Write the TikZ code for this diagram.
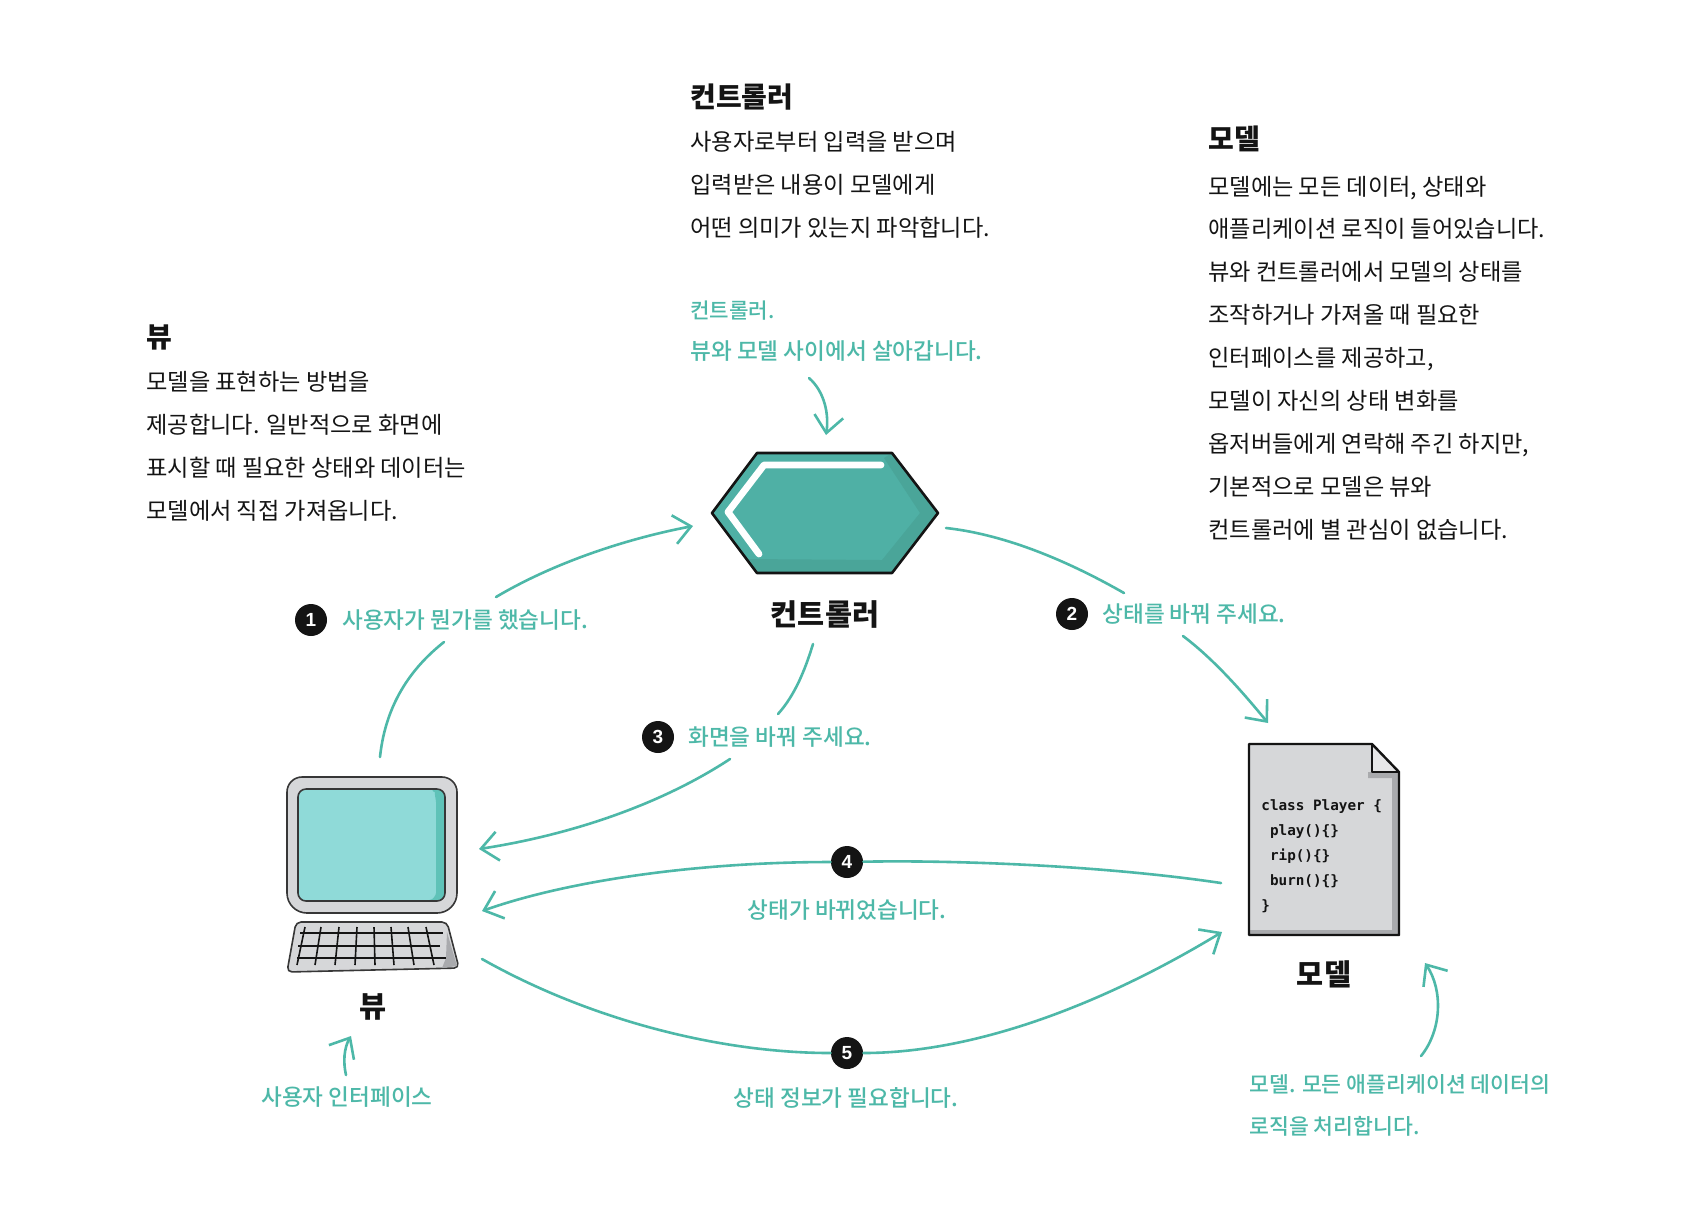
\documentclass[tikz,border=0pt]{standalone}
\usepackage{fontspec}
\setmainfont{Noto Sans CJK KR}
\newfontfamily\notefont{Noto Sans CJK KR Medium}
\newfontfamily\codefont{DejaVu Sans Mono}
\newfontfamily\numfont{Liberation Sans}
\usetikzlibrary{arrows.meta}
\definecolor{teal1}{HTML}{4DB8A8}
\definecolor{hexmain}{HTML}{4FB0A5}
\definecolor{hexdark}{HTML}{4AA599}
\definecolor{scr}{HTML}{8FDAD8}
\definecolor{scrd}{HTML}{5FC2B8}
\definecolor{gray1}{HTML}{D6D7D9}
\definecolor{gray2}{HTML}{A9AAAD}
\definecolor{ink}{HTML}{141414}
\tikzset{
  x=0.5pt,y=-0.5pt,
  head/.style={font=\fontsize{14}{18}\selectfont\bfseries,text=ink,inner sep=0pt},
  biglabel/.style={font=\fontsize{14.7}{18}\selectfont\bfseries,text=ink,inner sep=0pt},
  body/.style={font=\fontsize{11.6}{21.45}\selectfont,text=ink,inner sep=0pt,align=left,anchor=west},
  note/.style={font=\fontsize{11.3}{20.5}\selectfont\notefont,text=teal1,inner sep=0pt,align=left},
  flow/.style={draw=teal1,line width=1.3pt,line cap=round},
  flowa/.style={flow,-{Straight Barb[length=8.5pt,width=14.5pt,line width=1.3pt]}},
  badge/.style={circle,fill=ink,text=white,inner sep=0pt,minimum size=16pt,font=\fontsize{9.5}{10}\selectfont\numfont\bfseries},
  outline/.style={draw=ink,line width=1pt,line join=round},
  thinline/.style={draw=ink!85,line width=0.8pt,line join=round},
}
\begin{document}
\begin{tikzpicture}
\useasboundingbox (0,0) rectangle (1684,1212);
\fill[white] (0,0) rectangle (1684,1212);

% Controller hexagon
\fill[hexmain] (712,513)--(757,453)--(892,453)--(938,513)--(892,573)--(757,573)--cycle;
\fill[hexdark] (892,453)--(938,513)--(892,573)--(757,573)--(746,559)--(882,560)--(920,513)--(884,458)--cycle;
\draw[white,line width=3.4pt,line cap=round,line join=round] (881,465)--(764,465)--(728,512)--(759,554);
\draw[outline,line width=1.3pt] (712,513)--(757,453)--(892,453)--(938,513)--(892,573)--(757,573)--cycle;
\node[inner sep=0pt,minimum width=113pt,minimum height=60pt] (hex) at (825,513) {};

% Monitor
\draw[thinline,fill=gray1] (287,792) arc[start angle=180,end angle=270,radius=15] -- (442,777) arc[start angle=270,end angle=360,radius=15] -- (457,893) arc[start angle=0,end angle=90,radius=20] -- (307,913) arc[start angle=90,end angle=180,radius=20] -- cycle;
\fill[scr,rounded corners=4pt] (298,789) rectangle (445,901);
\fill[scrd,rounded corners=4pt] (428,789) .. controls (434,792) and (436,800) .. (436,810) -- (436,885) .. controls (436,895) and (433,899) .. (424,901) -- (445,901) -- (445,789) -- cycle;
\draw[thinline,rounded corners=4pt] (298,789) rectangle (445,901);
% Keyboard
\draw[thinline,fill=gray1,rounded corners=2.5pt] (296,922) -- (447,922) -- (459,968) -- (372,970) -- (287,972) -- cycle;
\fill[gray2] (447,932) -- (457,966) -- (442,968) -- (446,958) -- cycle;
\foreach \a/\b in {305/297,321/315,339/335,357/355,374/375,391/394,408/414,426/434}
  \draw[ink,line width=0.8pt] (\a,927) -- (\b,965);
\draw[ink,line width=0.8pt] (300,933) -- (443,933);
\draw[ink,line width=0.8pt] (298,946) -- (440,946);
\draw[ink,line width=0.8pt] (297,958) -- (446,958);

% Model document
\fill[gray1] (1249,744) -- (1372,744) -- (1399,772) -- (1399,935) -- (1249,935) -- cycle;
\fill[gray2] (1368,772) -- (1399,772) -- (1399,935) -- (1249,935) -- (1249,930) -- (1392,930) -- (1392,778) -- (1368,778) -- cycle;
\fill[gray1!60!white] (1372,744) -- (1399,772) -- (1372,772) -- cycle;
\draw[outline,line width=1.2pt] (1249,744) -- (1372,744) -- (1399,772) -- (1399,935) -- (1249,935) -- cycle;
\draw[outline,line width=1.2pt] (1372,744) -- (1372,772) -- (1399,772);
\node[inner sep=0pt,anchor=west,align=left,text=ink,font=\fontsize{7.15}{12.5}\selectfont\codefont\bfseries] (code) at (1261,856) {class Player \{\\\ play()\{\}\\\ rip()\{\}\\\ burn()\{\}\\\}};

% Component labels
\node[biglabel] (lblc) at (825,614) {컨트롤러};
\node[biglabel] (lblv) at (373,1007) {뷰};
\node[biglabel] (lblm) at (1324,974) {모델};

% Text blocks
\node[head,anchor=west] (hc) at (690,97) {컨트롤러};
\node[body] (tc) at (690,185) {사용자로부터 입력을 받으며\\입력받은 내용이 모델에게\\어떤 의미가 있는지 파악합니다.};
\node[head,anchor=west] (hm) at (1208,139) {모델};
\node[body] (tm) at (1208,358) {모델에는 모든 데이터, 상태와\\애플리케이션 로직이 들어있습니다.\\뷰와 컨트롤러에서 모델의 상태를\\조작하거나 가져올 때 필요한\\인터페이스를 제공하고,\\모델이 자신의 상태 변화를\\옵저버들에게 연락해 주긴 하지만,\\기본적으로 모델은 뷰와\\컨트롤러에 별 관심이 없습니다.};
\node[head,anchor=west] (hv) at (146,337) {뷰};
\node[body] (tv) at (146,446) {모델을 표현하는 방법을\\제공합니다. 일반적으로 화면에\\표시할 때 필요한 상태와 데이터는\\모델에서 직접 가져옵니다.};

% Teal notes
\node[note,anchor=west,font=\fontsize{10.6}{20.5}\selectfont\notefont] (nc1) at (690,311) {컨트롤러.};
\node[note,anchor=west] (nc2) at (690,351) {뷰와 모델 사이에서 살아갑니다.};
\node[note,anchor=center] (nv) at (347,1097) {사용자 인터페이스};
\node[note,anchor=west,font=\fontsize{10.8}{21}\selectfont\notefont] (nm) at (1249,1105) {모델. 모든 애플리케이션 데이터의\\로직을 처리합니다.};
\node[note,anchor=west] (l1) at (342,620) {사용자가 뭔가를 했습니다.};
\node[note,anchor=west] (l2) at (1102,614) {상태를 바꿔 주세요.};
\node[note,anchor=west] (l3) at (688,737) {화면을 바꿔 주세요.};
\node[note] (l4) at (847,910) {상태가 바뀌었습니다.};
\node[note] (l5) at (846,1098) {상태 정보가 필요합니다.};

% Badges
\node[badge] (b1) at (311,620) {1};
\node[badge] (b2) at (1072,614) {2};
\node[badge] (b3) at (658,737) {3};
\node[badge] (b4) at (847,862) {4};
\node[badge] (b5) at (847,1053) {5};

% Connector ends
\coordinate (v1) at (380,757);
\coordinate (c1a) at (444,642);
\coordinate (c1b) at (496,597);
\coordinate (c1e) at (693,526);
\coordinate (c2s) at (946,528);
\coordinate (c2a) at (1124,593);
\coordinate (c2b) at (1183,636);
\coordinate (m2) at (1268,723);
\coordinate (c3s) at (813,644);
\coordinate (c3a) at (778,714);
\coordinate (c3b) at (730,759);
\coordinate (v3) at (479,849);
\coordinate (m4) at (1221,883);
\coordinate (v4) at (482,911);
\coordinate (v5) at (482,959);
\coordinate (m5) at (1222,932);
\coordinate (n1s) at (809,378);
\coordinate (n1e) at (826,435);
\coordinate (n2s) at (346,1075);
\coordinate (n2e) at (351,1036);
\coordinate (n3s) at (1421,1056);
\coordinate (n3e) at (1425,963);

\draw[flow] (v1) .. controls (386,700) and (415,665) .. (c1a);
\draw[flowa] (c1b) .. controls (550,565) and (620,540) .. (c1e);
\draw[flow] (c2s) .. controls (1010,535) and (1075,565) .. (c2a);
\draw[flowa] (c2b) .. controls (1215,660) and (1245,695) .. (m2);
\draw[flow] (c3s) .. controls (805,670) and (795,695) .. (c3a);
\draw[flowa] (c3b) .. controls (660,805) and (570,835) .. (v3);
\draw[flow] (m4) .. controls (1100,865) and (950,860) .. (b4);
\draw[flowa] (b4) .. controls (700,862) and (570,880) .. (v4);
\draw[flow] (v5) .. controls (590,1020) and (720,1053) .. (b5);
\draw[flowa] (b5) .. controls (980,1053) and (1110,1000) .. (m5);
\draw[flowa] (n1s) .. controls (825,392) and (829,415) .. (n1e);
\draw[flowa] (n2s) .. controls (343,1062) and (344,1048) .. (n2e);
\draw[flowa] (n3s) .. controls (1442,1030) and (1443,990) .. (n3e);
\end{tikzpicture}
\end{document}
